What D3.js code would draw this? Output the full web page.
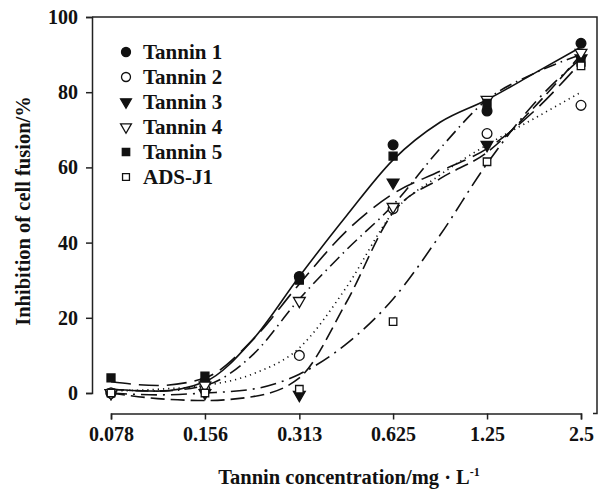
<!DOCTYPE html>
<html>
<head>
<meta charset="utf-8">
<script src="https://cdn.jsdelivr.net/npm/d3@7"></script>
<style>
  body { margin: 0; background: #fff; }
  text { font-family: "Liberation Serif", "Times New Roman", serif; font-weight: bold; fill: #111; }
</style>
</head>
<body>
<div id="chart"></div>
<script>
// Concentration categories (mg/L) and tick labels
const concentrations = [0.078, 0.156, 0.313, 0.625, 1.25, 2.5];
const concLabels = ["0.078", "0.156", "0.313", "0.625", "1.25", "2.5"];
const yTicks = [0, 20, 40, 60, 80, 100];
const seriesNames = ["Tannin 1", "Tannin 2", "Tannin 3", "Tannin 4", "Tannin 5", "ADS-J1"];

// Measured inhibition (%) at each concentration
const tannin1 = [0, 3, 31, 66, 75, 93];
const tannin2 = [0, 1, 10, 49, 69, 76.5];
const tannin3 = [0, 0, -0.5, 56, 66, 89];
const tannin4 = [0, 2, 24.5, 49.5, 78, 90.5];
const tannin5 = [4, 4.5, 30, 63, 77, 88];
const adsJ1   = [0, 0, 1, 19, 61.5, 87];

// Fitted curves at half-step concentrations
const fitConc = [0.078, 0.110, 0.156, 0.221, 0.313, 0.442, 0.625, 0.884, 1.25, 1.77, 2.5];
const fit1 = [1, 0.5, 3, 14, 31, 47, 62, 72, 78, 85, 92];
const fit2 = [0.5, 1, 2, 5, 12, 28, 48, 58, 66, 73, 80];
const fit3 = [0, -1.5, -2, -1, 4, 24, 48, 57, 64, 76, 90];
const fit4 = [1, 0.5, 2, 10, 25, 38, 50, 65, 78, 85, 90];
const fit5 = [3, 2, 4, 14, 29, 43, 53, 59, 65, 75, 88];
const fitAds = [0, -0.5, 0, 1, 5, 13, 25, 42, 61, 77, 89];

const width = 600, height = 491;
const margin = {left: 92, right: 3, top: 17, bottom: 98};

const svg = d3.select("#chart").append("svg")
              .attr("width", width)
              .attr("height", height);

const xScale = d3.scaleLog()
                 .domain([0.078, 2.5])
                 .range([111, 581]);
const yScale = d3.scaleLinear()
               .domain([0, 100])
               .range([393, 17]);

// Frame: top and right borders
svg.append("path")
   .attr("d", "M" + margin.left + "," + yScale(100) + "H597V413.5H593")
   .attr("fill", "none")
   .attr("stroke", "#222")
   .attr("stroke-width", 1.5);

// Y axis
const yAxis = svg.append("g")
                 .attr("transform", "translate(" + margin.left + ",0)")
                 .call(d3.axisLeft(yScale).tickValues(yTicks).tickSize(6).tickPadding(8));
yAxis.select(".domain").attr("stroke", "#222").attr("stroke-width", 1.5);
yAxis.selectAll(".tick line").attr("stroke", "#222").attr("stroke-width", 1.5);
yAxis.selectAll(".tick text").style("font-size", "20px");

// X axis
const xAxis = svg.append("g")
                 .attr("transform", "translate(0,413.5)")
                 .call(d3.axisBottom(xScale).tickValues(concentrations)
                         .tickFormat((d, i) => concLabels[i]).tickSizeOuter(6).tickSize(6).tickPadding(7));
xAxis.select(".domain").attr("stroke", "#222").attr("stroke-width", 1.5);
xAxis.selectAll(".tick line").attr("stroke", "#222").attr("stroke-width", 1.5);
xAxis.selectAll(".tick text").style("font-size", "20px");

// Axis titles
svg.append("text")
   .attr("x", 349)
   .attr("y", 484)
   .attr("text-anchor", "middle")
   .style("font-size", "20.5px")
   .html("Tannin concentration/mg \u00B7 L<tspan dy='-8' font-size='12px'>-1</tspan>");

svg.append("text")
   .attr("transform", "translate(30,211) rotate(-90)")
   .attr("text-anchor", "middle")
   .style("font-size", "20.5px")
   .text("Inhibition of cell fusion/%");

// Series definitions
const series = [
    {name: seriesNames[0], values: tannin1, fit: fit1, symbol: d3.symbolCircle, size: 75, filled: true, dash: null},
    {name: seriesNames[1], values: tannin2, fit: fit2, symbol: d3.symbolCircle, size: 75, filled: false, dash: "1.2,4"},
    {name: seriesNames[2], values: tannin3, fit: fit3, symbol: "down", size: 60, filled: true, dash: "14,6"},
    {name: seriesNames[3], values: tannin4, fit: fit4, symbol: "down", size: 60, filled: false, dash: "13,5,1.5,5"},
    {name: seriesNames[4], values: tannin5, fit: fit5, symbol: d3.symbolSquare, size: 64, filled: true, dash: "20,8"},
    {name: seriesNames[5], values: adsJ1, fit: fitAds, symbol: d3.symbolSquare, size: 56, filled: false, dash: "16,6,2,6"}
];

function markerPath(s, scale) {
    const type = s.symbol === "down" ? d3.symbolTriangle : s.symbol;
    return d3.symbol().type(type).size(s.size * (scale || 1))();
}

const line = d3.line()
               .x((d, i) => xScale(fitConc[i]))
               .y(d => yScale(d))
               .curve(d3.curveMonotoneX);

series.forEach(function (s) {
    svg.append("path")
       .datum(s.fit)
       .attr("d", line)
       .attr("fill", "none")
       .attr("stroke", "#111")
       .attr("stroke-width", 1.6)
       .attr("stroke-dasharray", s.dash);
});

series.forEach(function (s) {
    svg.append("g")
       .selectAll("path")
       .data(s.values)
       .enter()
       .append("path")
       .attr("d", markerPath(s))
       .attr("transform", (d, i) => "translate(" + xScale(concentrations[i]) + "," + yScale(d) + ")" + (s.symbol === "down" ? " rotate(180)" : ""))
       .attr("fill", s.filled ? "#111" : "#fff")
       .attr("stroke", "#111")
       .attr("stroke-width", 1.3);
});

// Legend
const legend = svg.append("g");
series.forEach(function (s, i) {
    const y = 52 + i * 25;
    legend.append("path")
          .attr("d", markerPath(s, 0.85))
          .attr("transform", "translate(126," + y + ")" + (s.symbol === "down" ? " rotate(180)" : ""))
          .attr("fill", s.filled ? "#111" : "#fff")
          .attr("stroke", "#111")
          .attr("stroke-width", 1.3);
    legend.append("text")
          .attr("x", 143)
          .attr("y", y + 7)
          .style("font-size", "21px")
          .text(s.name);
});
</script>
</body>
</html>
